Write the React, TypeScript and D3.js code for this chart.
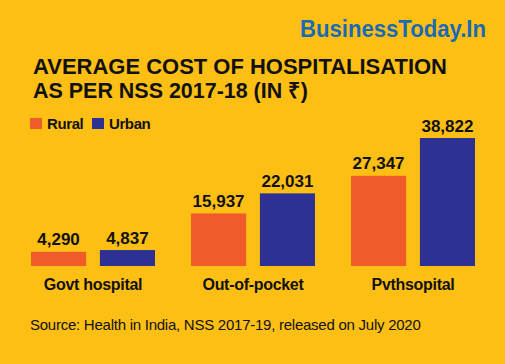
import React, { useEffect, useRef } from 'react';
import * as d3 from 'd3';

const categories = ['Govt hospital', 'Out-of-pocket', 'Pvthsopital'];
const seriesNames = ['Rural', 'Urban'];
const rural = [4290, 15937, 27347];
const urban = [4837, 22031, 38822];
const colors = ['#F15A29', '#2E3192'];

const W = 505;
const H = 364;

const App = () => {
  const ref = useRef<SVGSVGElement>(null);

  useEffect(() => {
    const svg = d3.select(ref.current);
    svg.selectAll('*').remove();

    svg.append('rect').attr('width', W).attr('height', H).attr('fill', '#FDBF14');

    const font = "'Liberation Sans', Arial, sans-serif";

    // logo
    svg.append('text')
      .attr('x', 300).attr('y', 37)
      .attr('font-family', font).attr('font-weight', 'bold')
      .attr('font-size', 23).attr('fill', '#1B6AB2')
      .attr('textLength', 186).attr('lengthAdjust', 'spacingAndGlyphs')
      .text('BusinessToday.In');

    // title
    const title = ['AVERAGE COST OF HOSPITALISATION', 'AS PER NSS 2017-18 (IN \u20B9)'];
    const titleLen = [414, 275];
    title.forEach((t, i) => {
      svg.append('text')
        .attr('x', 33).attr('y', 74 + i * 24)
        .attr('font-family', font).attr('font-weight', 'bold')
        .attr('font-size', 22).attr('fill', '#111')
        .attr('textLength', titleLen[i]).attr('lengthAdjust', 'spacingAndGlyphs')
        .text(t);
    });

    // legend
    const legendX = [30, 92];
    seriesNames.forEach((s, i) => {
      svg.append('rect')
        .attr('x', legendX[i]).attr('y', 118)
        .attr('width', 12).attr('height', 11)
        .attr('fill', colors[i]);
      svg.append('text')
        .attr('x', legendX[i] + 17).attr('y', 129)
        .attr('font-family', font).attr('font-weight', 'bold')
        .attr('font-size', 15).attr('fill', '#111')
        .attr('letter-spacing', -0.4)
        .text(s);
    });

    const baseline = 266;
    const x0 = d3.scaleBand().domain(categories).range([31, 475]).paddingInner(0.225).paddingOuter(0);
    const x1 = d3.scaleBand().domain(seriesNames).range([0, x0.bandwidth()]).paddingInner(0.2);
    const y = d3.scaleLinear().domain([0, 38822]).range([baseline, 138]);

    const data = categories.map((c, i) => ({ cat: c, values: [rural[i], urban[i]] }));

    const g = svg.append('g');
    const groups = g.selectAll('.grp').data(data).enter().append('g')
      .attr('transform', (d) => `translate(${x0(d.cat)},0)`);

    groups.selectAll('rect')
      .data((d) => d.values.map((v, i) => ({ key: seriesNames[i], v, i })))
      .enter().append('rect')
      .attr('x', (d) => x1(d.key)!)
      .attr('y', (d) => y(d.v))
      .attr('width', x1.bandwidth())
      .attr('height', (d) => baseline - y(d.v))
      .attr('fill', (d) => colors[d.i]);

    groups.selectAll('.val')
      .data((d) => d.values.map((v, i) => ({ key: seriesNames[i], v, i })))
      .enter().append('text')
      .attr('x', (d) => x1(d.key)! + x1.bandwidth() / 2)
      .attr('y', (d) => y(d.v) - 6.5)
      .attr('text-anchor', 'middle')
      .attr('font-family', font).attr('font-weight', 'bold')
      .attr('font-size', 17).attr('fill', '#111')
      .text((d) => d3.format(',')(d.v));

    groups.append('text')
      .attr('x', x0.bandwidth() / 2)
      .attr('y', 290)
      .attr('text-anchor', 'middle')
      .attr('font-family', font).attr('font-weight', 'bold')
      .attr('font-size', 16).attr('fill', '#111')
      .attr('letter-spacing', -0.3)
      .text((d) => d.cat);

    svg.append('text')
      .attr('x', 30).attr('y', 330)
      .attr('font-family', font)
      .attr('font-size', 15).attr('fill', '#111')
      .attr('letter-spacing', -0.25)
      .text('Source: Health in India, NSS 2017-19, released on July 2020');
  }, []);

  return (
    <div style={{ position: 'absolute', left: 0, top: 0 }}>
      <svg ref={ref} width={W} height={H} style={{ display: 'block' }}></svg>
    </div>
  );
};

export default App;
